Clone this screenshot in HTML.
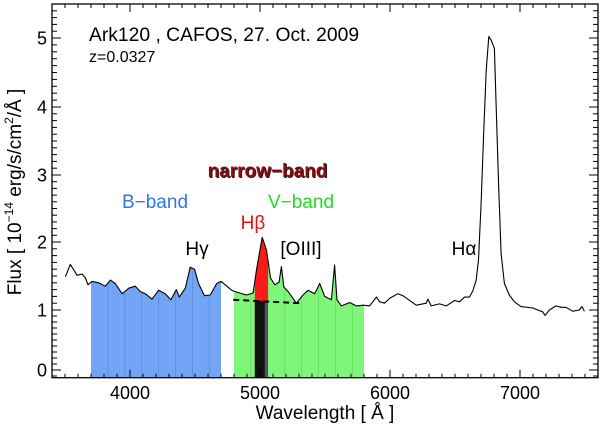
<!DOCTYPE html>
<html><head><meta charset="utf-8">
<style>
html,body{margin:0;padding:0;background:#fff;}
svg{display:block;font-family:"Liberation Sans",Arial,sans-serif;}
</style></head>
<body>
<svg id="chart" width="600" height="428" viewBox="0 0 600 428" xmlns="http://www.w3.org/2000/svg">
<g id="fills"></g>
<g id="spec"></g>
<g id="axes"></g>
<text x="89" y="41" font-size="19.3" fill="#000">Ark120 , CAFOS, 27. Oct. 2009</text>
<text x="89" y="62" font-size="16" fill="#000">z=0.0327</text>
<text x="268.5" y="178" font-size="19" font-weight="bold" fill="#222" text-anchor="middle">narrow−band</text>
<text x="267.5" y="177" font-size="19" font-weight="bold" fill="#8b0a0a" text-anchor="middle">narrow−band</text>
<text x="155" y="208" font-size="19" fill="#2d78e6" text-anchor="middle">B−band</text>
<text x="301" y="208" font-size="19" fill="#22dd22" text-anchor="middle">V−band</text>
<text x="253" y="229" font-size="19" fill="#e81010" text-anchor="middle">Hβ</text>
<text x="197" y="255" font-size="19" fill="#000" text-anchor="middle">Hγ</text>
<text x="301" y="255" font-size="19" fill="#000" text-anchor="middle">[OIII]</text>
<text x="464" y="255" font-size="19" fill="#000" text-anchor="middle">Hα</text>
<text x="325" y="419" font-size="19" fill="#000" text-anchor="middle">Wavelength [ Å ]</text>
<text transform="translate(21,192) rotate(-90)" font-size="19" fill="#000" text-anchor="middle">Flux  [ 10<tspan font-size="12" dy="-8">−14</tspan><tspan dy="8"> erg/s/cm</tspan><tspan font-size="12" dy="-8">2</tspan><tspan dy="8">/Å ]</tspan></text>
</svg>
<script>
const wave = [3503,3541,3568,3593,3631,3657,3677,3708,3760,3810,3849,3887,3939,3990,4041,4079,4118,4169,4220,4271,4315,4356,4379,4425,4463,4497,4527,4573,4617,4667,4701,4783,4794,4896,4947,4973,5017,5050,5081,5114,5147,5165,5183,5216,5280,5331,5369,5421,5459,5498,5549,5574,5592,5626,5690,5741,5792,5843,5895,5920,5958,5997,6061,6099,6202,6279,6291,6317,6381,6432,6496,6535,6573,6611,6637,6663,6681,6701,6719,6740,6760,6778,6803,6816,6836,6855,6880,6918,6957,7008,7097,7174,7193,7226,7277,7315,7354,7405,7456,7477,7495];
const flux = [1.49,1.67,1.59,1.51,1.53,1.47,1.37,1.42,1.40,1.35,1.44,1.39,1.24,1.32,1.35,1.27,1.24,1.16,1.29,1.24,1.15,1.30,1.19,1.32,1.63,1.60,1.39,1.21,1.22,1.39,1.42,1.29,1.28,1.22,1.25,1.59,2.07,1.88,1.47,1.37,1.41,1.64,1.34,1.27,1.10,1.22,1.29,1.24,1.39,1.20,1.15,1.66,1.15,1.06,1.11,1.06,1.07,1.06,1.19,1.12,1.10,1.17,1.24,1.21,1.07,1.10,1.16,1.06,1.09,1.06,1.14,1.12,1.19,1.19,1.28,1.44,1.74,2.57,3.55,4.53,5.02,4.97,4.85,4.04,2.81,1.83,1.39,1.22,1.12,1.05,1.03,0.97,0.91,1.00,1.06,1.04,1.04,0.98,1.00,1.05,0.98];
const bBand = [3700,4700];
const vBand = [4800,5800];
const hbBand = [4960,5062];
const hbCore = [4960,5037];
const contWave = [4794,5306];
const contFlux = [1.15,1.10];
const xTickLabels = [4000,5000,6000,7000];
const yTickLabels = [0,1,2,3,4,5];

const NS='http://www.w3.org/2000/svg';
const X0=52,X1=598,Y0=377.7,YT=4;
const xmin=3400,xmax=7600;
function xs(l){return X0+(l-xmin)*(X1-X0)/(xmax-xmin);}
const yPix=[370,310,242,175,107,38];
function ys(f){
  if(f<=0) return yPix[0]-f*60;
  if(f>=5) return yPix[5]-(f-5)*68;
  const i=Math.floor(f);return yPix[i]+(f-i)*(yPix[i+1]-yPix[i]);
}
function interp(l){
  for(let i=0;i<wave.length-1;i++){if(l>=wave[i]&&l<=wave[i+1]){const t=(l-wave[i])/(wave[i+1]-wave[i]);return flux[i]+t*(flux[i+1]-flux[i]);}}
  return l<wave[0]?flux[0]:flux[flux.length-1];
}
function cont(l){const t=(l-contWave[0])/(contWave[1]-contWave[0]);return contFlux[0]+t*(contFlux[1]-contFlux[0]);}
function mk(tag,attrs,parent){const e=document.createElementNS(NS,tag);for(const k in attrs)e.setAttribute(k,attrs[k]);parent.appendChild(e);return e;}
function topPts(a,b){const pts=[[a,interp(a)]];wave.forEach((w,i)=>{if(w>a&&w<b)pts.push([w,flux[i]]);});pts.push([b,interp(b)]);return pts;}
const fills=document.getElementById('fills');
function band(range,color,line,name){
  const pts=topPts(range[0],range[1]);
  let d='M'+xs(range[0])+','+Y0;pts.forEach(p=>d+=' L'+xs(p[0]).toFixed(1)+','+ys(p[1]).toFixed(1));d+=' L'+xs(range[1])+','+Y0+' Z';
  const p=mk('path',{d:d,fill:color},fills);
  
  
  for(let l=range[0]+130;l<range[1];l+=130){
    const ln=mk('line',{x1:xs(l),x2:xs(l),y1:ys(interp(l)),y2:Y0,stroke:line,'stroke-width':0.8},fills);
    
    
  }
}
band(bBand,'#72a5f5','#5a8ee0','b-band-fill');
band(vBand,'#7ff57a','#66dc62','v-band-fill');
(function(){
  const pts=topPts(hbBand[0],hbBand[1]);
  let d='M'+xs(hbBand[0])+','+ys(cont(hbBand[0]));pts.forEach(p=>d+=' L'+xs(p[0]).toFixed(1)+','+ys(p[1]).toFixed(1));d+=' L'+xs(hbBand[1])+','+ys(cont(hbBand[1]))+' Z';
  const r=mk('path',{d:d,fill:'#ff1a1a'},fills);
  
  
  const g=mk('rect',{x:xs(hbBand[0]),y:ys(cont(hbBand[0])),width:xs(hbBand[1])-xs(hbBand[0]),height:Y0-ys(cont(hbBand[0])),fill:'#555'},fills);
  
  
  const b=mk('rect',{x:xs(hbCore[0]),y:ys(cont(hbCore[0])),width:xs(hbCore[1])-xs(hbCore[0]),height:Y0-ys(cont(hbCore[0])),fill:'#111'},fills);
  
  
  const dl=mk('line',{x1:xs(contWave[0]),y1:ys(contFlux[0]),x2:xs(contWave[1]),y2:ys(contFlux[1]),stroke:'#000','stroke-width':2,'stroke-dasharray':'6,4'},fills);
  
  
})();
const spec=document.getElementById('spec');
const sp=mk('polyline',{points:wave.map((w,i)=>xs(w).toFixed(1)+','+ys(flux[i]).toFixed(1)).join(' '),fill:'none',stroke:'#000','stroke-width':1.1,'stroke-linejoin':'round'},spec);


const ax=document.getElementById('axes');
const fr=mk('rect',{x:X0,y:YT,width:X1-X0,height:Y0-YT,fill:'none',stroke:'#000','stroke-width':1.3},ax);


for(let l=3500;l<xmax;l+=100){
  const major=l%1000===0, len=major?8:4, x=xs(l);
  mk('line',{x1:x,x2:x,y1:Y0,y2:Y0-len,stroke:'#000','stroke-width':1},ax);
  mk('line',{x1:x,x2:x,y1:YT,y2:YT+len,stroke:'#000','stroke-width':1},ax);
}
xTickLabels.forEach(v=>{const t=mk('text',{x:xs(v),y:399,'font-size':18,'text-anchor':'middle'},ax);t.textContent=v;
  
  });
for(let k=-1;k<=54;k++){
  const f=k/10, y=ys(f);if(y>Y0||y<YT)continue;
  const major=k%10===0,len=major?9:5;
  mk('line',{x1:X0,x2:X0+len,y1:y,y2:y,stroke:'#000','stroke-width':1},ax);
  mk('line',{x1:X1,x2:X1-len,y1:y,y2:y,stroke:'#000','stroke-width':1},ax);
}
yTickLabels.forEach(v=>{const t=mk('text',{x:47,y:ys(v)+6.5,'font-size':18,'text-anchor':'end'},ax);t.textContent=v;
  
  });
</script>
</body></html>
